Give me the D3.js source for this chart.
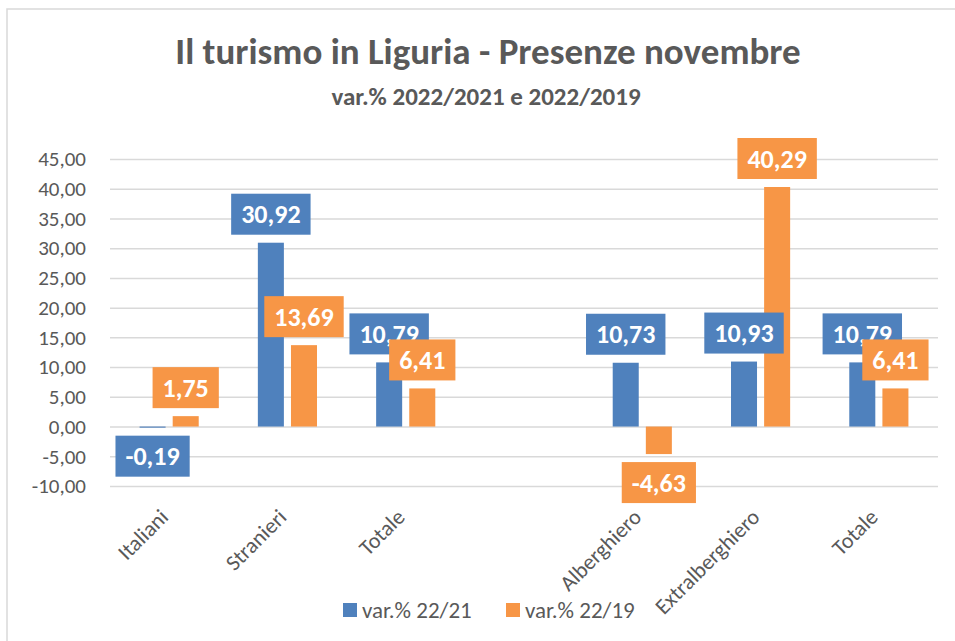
<!DOCTYPE html>
<html>
<head>
<meta charset="utf-8">
<script src="https://cdn.jsdelivr.net/npm/d3@7"></script>
<style>
  body { margin: 0; background: #fff; }
  svg { font-family: Carlito, Calibri, "Open Sans", sans-serif; }
</style>
</head>
<body>
<svg width="955" height="641"></svg>
<script>
// Data
const categories = ['Italiani', 'Stranieri', 'Totale', '', 'Alberghiero', 'Extralberghiero', 'Totale'];
const seriesNames = ['var.% 22/21', 'var.% 22/19'];
const var2221 = [-0.19, 30.92, 10.79, null, 10.73, 10.93, 10.79];
const var2219 = [1.75, 13.69, 6.41, null, -4.63, 40.29, 6.41];
const yTicks = [-10, -5, 0, 5, 10, 15, 20, 25, 30, 35, 40, 45];

const colors = ['#4F81BD', '#F79646'];
const textColor = '#595959';

let svg = d3.select('svg');
let width = +svg.attr('width');
let height = +svg.attr('height');

// chart frame
svg.append('rect')
  .attr('x', 7).attr('y', 9)
  .attr('width', 970).attr('height', 650)
  .attr('fill', 'none')
  .attr('stroke', '#d9d9d9')
  .attr('stroke-width', 1.5);

let margin = { left: 110, right: 955 - 938, top: 159, bottom: 641 - 486 };

let x = d3.scaleBand()
  .domain(d3.range(categories.length))
  .range([margin.left, width - margin.right]);

let y = d3.scaleLinear()
  .domain([-10, 45])
  .range([486, 159]);

// Italian number format, plain hyphen for negatives
let fmt = v => d3.format('.2f')(v).replace('.', ',').replace('\u2212', '-');

// title
svg.append('text')
  .attr('x', 488).attr('y', 64)
  .attr('text-anchor', 'middle')
  .attr('font-size', 37).attr('font-weight', 'bold')
  .attr('fill', textColor)
  .text('Il turismo in Liguria - Presenze novembre');

svg.append('text')
  .attr('x', 486).attr('y', 105)
  .attr('text-anchor', 'middle')
  .attr('font-size', 25).attr('font-weight', 'bold')
  .attr('fill', textColor)
  .text('var.% 2022/2021 e 2022/2019');

// gridlines + y labels
let yAxis = d3.axisLeft(y)
  .tickValues(yTicks)
  .tickSize(-(x.range()[1] - x.range()[0]))
  .tickFormat(fmt)
  .tickPadding(24);

let gy = svg.append('g')
  .attr('transform', `translate(${margin.left},0)`)
  .call(yAxis);
gy.select('.domain').remove();
gy.selectAll('.tick line').attr('stroke', '#d9d9d9').attr('stroke-width', 1.5);
gy.selectAll('.tick text')
  .attr('fill', textColor)
  .attr('font-size', 21)
  .attr('font-family', 'Carlito, Calibri, "Open Sans", sans-serif');

// bars
let barW = x.bandwidth() * 0.22;
let gap = x.bandwidth() * 0.06;
let series = [var2221, var2219];

series.forEach((vals, s) => {
  let bx = i => x(i) + x.bandwidth() / 2 + (s === 0 ? -(gap / 2 + barW) : gap / 2);
  svg.append('g').selectAll('rect')
    .data(vals.map((v, i) => ({ v, i })).filter(d => d.v !== null))
    .enter().append('rect')
      .attr('x', d => bx(d.i))
      .attr('width', barW)
      .attr('y', d => y(Math.max(0, d.v)))
      .attr('height', d => Math.abs(y(d.v) - y(0)))
      .attr('fill', colors[s]);
});

// data labels (drawn after all bars)
series.forEach((vals, s) => {
  let cx = i => x(i) + x.bandwidth() / 2 + (s === 0 ? -(gap / 2 + barW / 2) : gap / 2 + barW / 2);
  let g = svg.append('g');
  vals.forEach((v, i) => {
    if (v === null) return;
    let lg = g.append('g');
    let t = lg.append('text')
      .attr('text-anchor', 'middle')
      .attr('font-size', 26).attr('font-weight', 'bold')
      .attr('fill', '#fff')
      .attr('dy', '0.35em')
      .text(fmt(v));
    let tw = t.node().getComputedTextLength();
    let bw = tw + 20, bh = 41;
    let cy = v >= 0 ? y(v) - 8 - bh / 2 : y(v) + 8 + bh / 2;
    lg.insert('rect', 'text')
      .attr('x', cx(i) - bw / 2).attr('y', cy - bh / 2)
      .attr('width', bw).attr('height', bh)
      .attr('fill', colors[s]);
    t.attr('x', cx(i)).attr('y', cy);
  });
});

// x labels
svg.append('g').selectAll('text')
  .data(categories)
  .enter().append('text')
    .attr('transform', (d, i) => `translate(${x(i) + x.bandwidth() / 2 - 5},${513}) rotate(-45)`)
    .attr('text-anchor', 'end')
    .attr('dy', '0.35em')
    .attr('font-size', 22)
    .attr('fill', textColor)
    .text(d => d);

// legend
let legend = svg.append('g');
let lx = [343, 506];
seriesNames.forEach((n, s) => {
  legend.append('rect')
    .attr('x', lx[s]).attr('y', 603)
    .attr('width', 14).attr('height', 14)
    .attr('fill', colors[s]);
  legend.append('text')
    .attr('x', lx[s] + 19).attr('y', 610)
    .attr('dy', '0.35em')
    .attr('font-size', 23)
    .attr('fill', textColor)
    .text(n);
});
</script>
</body>
</html>
